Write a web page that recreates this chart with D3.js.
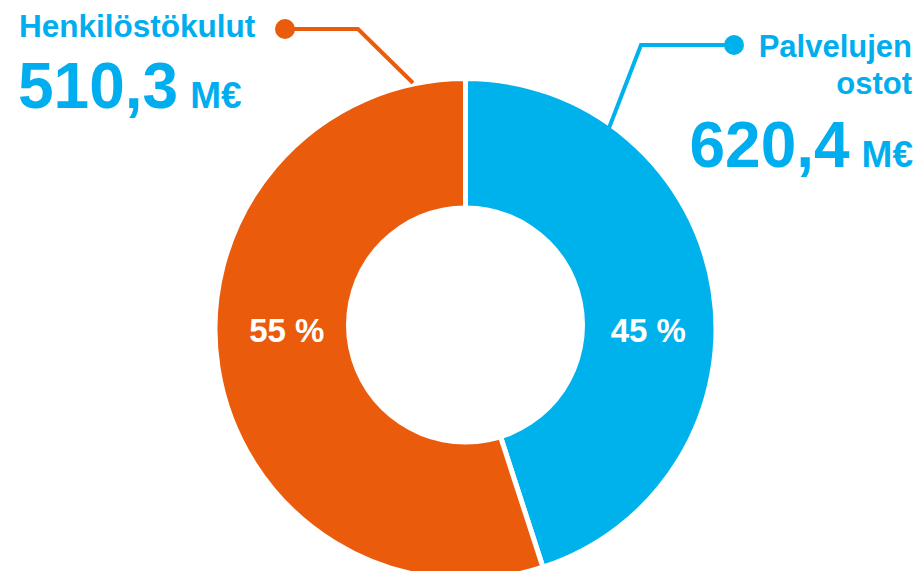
<!DOCTYPE html>
<html>
<head>
<meta charset="utf-8">
<script src="https://cdn.jsdelivr.net/npm/d3@7"></script>
<style>
  html, body { margin: 0; padding: 0; background: #fff; }
  svg { display: block; font-family: "Liberation Sans", Arial, Helvetica, sans-serif; font-weight: bold; }
</style>
</head>
<body>
<div id="chart"></div>
<script>
const categories = ['Palvelujen ostot', 'Henkilöstökulut'];
const shares = [45, 55];
const amounts = ['620,4', '510,3'];
const unit = 'M€';
const colors = ['#00b2eb', '#ea5b0c'];
const textBlue = '#00aeef';

const width = 919, height = 571;
const cx = 465.5, cy = 329;
const outerR = 248, holeR = 119.5;

const svg = d3.select('#chart').append('svg')
  .attr('width', width)
  .attr('height', height);

const data = categories.map((c, i) => ({ name: c, share: shares[i], amount: amounts[i], color: colors[i] }));

const pie = d3.pie().sort(null).value(d => d.share);
const arc = d3.arc().innerRadius(0).outerRadius(outerR + 2.5);
const labelArc = d3.arc().innerRadius(182).outerRadius(182);

const g = svg.append('g').attr('transform', `translate(${cx},${cy})`);

g.selectAll('path.slice')
  .data(pie(data))
  .enter()
  .append('path')
  .attr('class', 'slice')
  .attr('d', arc)
  .attr('fill', d => d.data.color)
  .attr('stroke', '#fff')
  .attr('stroke-width', 5);

// hole sits a few px above the ring centre in the original
svg.append('circle')
  .attr('cx', cx)
  .attr('cy', cy - 4)
  .attr('r', holeR)
  .attr('fill', '#fff');

// percentage labels
g.selectAll('text.pct')
  .data(pie(data))
  .enter()
  .append('text')
  .attr('class', 'pct')
  .attr('x', d => labelArc.centroid(d)[0] + (d.index === 0 ? 3 : 1))
  .attr('y', 13)
  .attr('text-anchor', 'middle')
  .attr('font-size', '33px')
  .attr('fill', '#fff')
  .text(d => `${d.data.share} %`);

// connectors
const connectors = [
  { pts: [[734, 45], [641, 45], [609, 128]], color: colors[0] },
  { pts: [[285, 29], [358, 29], [413, 83]], color: colors[1] }
];
connectors.forEach(c => {
  svg.append('path')
    .attr('d', d3.line()(c.pts))
    .attr('fill', 'none')
    .attr('stroke', c.color)
    .attr('stroke-width', 4);
  svg.append('circle')
    .attr('cx', c.pts[0][0])
    .attr('cy', c.pts[0][1])
    .attr('r', 10)
    .attr('fill', c.color);
});

// left annotation (Henkilöstökulut)
svg.append('text')
  .attr('x', 19).attr('y', 37)
  .attr('font-size', '31.5px')
  .attr('fill', textBlue)
  .text(data[1].name);

const leftVal = svg.append('text')
  .attr('x', 18).attr('y', 108)
  .attr('fill', textBlue);
leftVal.append('tspan').attr('font-size', '64px').text(data[1].amount);
leftVal.append('tspan').attr('font-size', '37px').attr('dx', 12).text(unit);

// right annotation (Palvelujen ostot)
const rightName = data[0].name.split(' ');
svg.append('text')
  .attr('x', 912).attr('y', 57)
  .attr('text-anchor', 'end')
  .attr('font-size', '31px')
  .attr('fill', textBlue)
  .text(rightName[0]);
svg.append('text')
  .attr('x', 912).attr('y', 94)
  .attr('text-anchor', 'end')
  .attr('font-size', '31px')
  .attr('fill', textBlue)
  .text(rightName[1]);

const rightVal = svg.append('text')
  .attr('x', 913).attr('y', 167)
  .attr('text-anchor', 'end')
  .attr('fill', textBlue);
rightVal.append('tspan').attr('font-size', '64px').text(data[0].amount);
rightVal.append('tspan').attr('font-size', '37px').attr('dx', 12).text(unit);
</script>
</body>
</html>
